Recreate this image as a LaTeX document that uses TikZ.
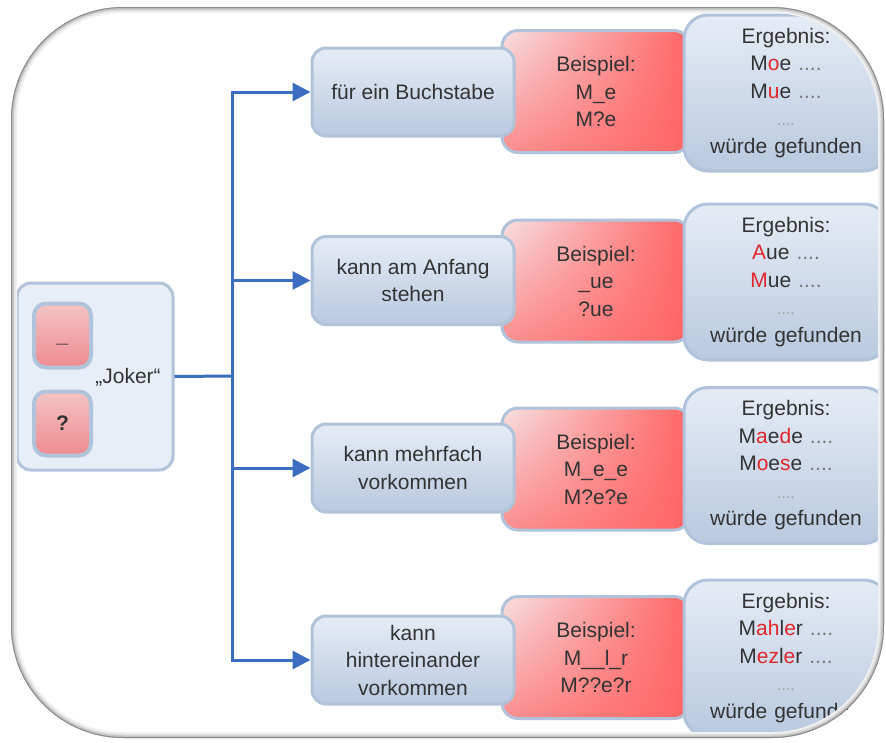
\documentclass[tikz,border=0pt]{standalone}
\usepackage{fontspec}
\setmainfont{Liberation Sans}
\usetikzlibrary{arrows.meta,shadings}
\definecolor{boxtop}{HTML}{E6ECF6}
\definecolor{boxbot}{HTML}{B9C9DF}
\definecolor{boxline}{HTML}{B0C3DB}
\definecolor{jokerfill}{HTML}{E8EEF7}
\definecolor{redlight}{HTML}{F6E0E2}
\definecolor{redmid}{HTML}{FB8E8F}
\definecolor{reddark}{HTML}{FF6464}
\definecolor{pinktop}{HTML}{F4C4C6}
\definecolor{pinkbot}{HTML}{EE8B8F}
\definecolor{linkblue}{HTML}{3C6DC0}
\definecolor{txt}{HTML}{333333}
\definecolor{hlred}{HTML}{E3262B}
\definecolor{dotgray}{HTML}{7A7A7A}
\newcommand\redch[1]{\textcolor{hlred}{#1}}
\newcommand\moredots{\textcolor{dotgray}{....}}
\newcommand\smalldots{{\color{dotgray!70}\fontsize{16}{27.5}\selectfont ....}}

\tikzset{
	bigfont/.style={font=\fontsize{21}{27.5}\selectfont, text=txt, align=center},
	catbox/.style={bigfont, draw=boxline, line width=3pt, rounded corners=14pt,
		top color=boxtop, bottom color=boxbot, minimum width=202pt, minimum height=88pt},
	exbox/.style={bigfont, draw=boxline, line width=3pt, rounded corners=16pt,
		upper left=redlight, lower left=redmid, upper right=reddark, lower right=reddark,
		minimum width=188pt, minimum height=122pt, text width=150pt},
	resbox/.style={bigfont, draw=boxline, line width=3pt, rounded corners=24pt,
		top color=boxtop, bottom color=boxbot, minimum width=204pt, minimum height=156pt,
		text width=180pt},
	jokerbox/.style={draw=boxline, line width=3pt, rounded corners=14pt, fill=jokerfill,
		minimum width=156pt, minimum height=187pt},
	wildbox/.style={bigfont, draw=boxline, line width=4pt, rounded corners=12pt,
		top color=pinktop, bottom color=pinkbot, minimum width=57pt, minimum height=64pt},
	link/.style={draw=linkblue, line width=3pt},
}

\begin{document}
\begin{tikzpicture}[x=1pt, y=-1pt]
	%%%%% START %%%%%
	\useasboundingbox (0, 0) rectangle (886, 742);
	
	\fill[white, rounded corners=112pt] (11, 7) rectangle (884, 738);
	
	\begin{scope}
		\clip[rounded corners=112pt] (11, 7) rectangle (884, 738);
		
		% joker
		\node[jokerbox] (joker) at (95, 376.5) {};
		\node[wildbox] (under) at (62.5, 335.5) {\raisebox{-7pt}[0pt][0pt]{\textbf{\_}}};
		\node[wildbox] (quest) at (62.5, 423.5) {\textbf{?}};
		\node[bigfont] (jokertext) at (128, 377) {„Joker“};
		
		% examples (behind)
		\node[exbox] (ex1) at (596, 91.5) {Beispiel:\\ M\_e\\ M?e};
		\node[exbox] (ex2) at (596, 281) {Beispiel:\\ \_ue\\ ?ue};
		\node[exbox] (ex3) at (596, 469) {Beispiel:\\ M\_e\_e\\ M?e?e};
		\node[exbox] (ex4) at (596, 657.5) {Beispiel:\\ M\_\_l\_r\\ M??e?r};
		
		% categories
		\node[catbox] (cat1) at (413, 92) {für ein Buchstabe};
		\node[catbox] (cat2) at (413, 280.5) {kann am Anfang\\ stehen};
		\node[catbox] (cat3) at (413, 468) {kann mehrfach\\ vorkommen};
		\node[catbox] (cat4) at (413, 660) {kann\\ hintereinander\\ vorkommen};
		
		% results
		\node[resbox] (res1) at (786, 93) {Ergebnis:\\ M\redch{o}e \moredots\\ M\redch{u}e \moredots\\ \smalldots\\ würde gefunden};
		\node[resbox] (res2) at (786, 282) {Ergebnis:\\ \redch{A}ue \moredots\\ \redch{M}ue \moredots\\ \smalldots\\ würde gefunden};
		\node[resbox] (res3) at (786, 465.5) {Ergebnis:\\ M\redch{a}e\redch{d}e \moredots\\ M\redch{o}e\redch{s}e \moredots\\ \smalldots\\ würde gefunden};
		\node[resbox] (res4) at (786, 658) {Ergebnis:\\ M\redch{ah}l\redch{e}r \moredots\\ M\redch{ez}l\redch{e}r \moredots\\ \smalldots\\ würde gefunden};
		
		% connectors
		\coordinate (fork) at (232, 376);
		\draw[link] (joker.east) -- (fork);
		\foreach \i in {1,...,4}
			\draw[link, -{Triangle[length=18pt, width=18pt]}] (fork) |- (cat\i.west);
		
		% inner shadow of the frame
		\foreach \w/\c in {12/6, 8/13, 5/24, 2/45}
			\draw[line width=\w pt, black!\c, rounded corners=112pt] (11, 7) rectangle (884, 738);
	\end{scope}
	
	%%%%% END %%%%%
\end{tikzpicture}
\end{document}
